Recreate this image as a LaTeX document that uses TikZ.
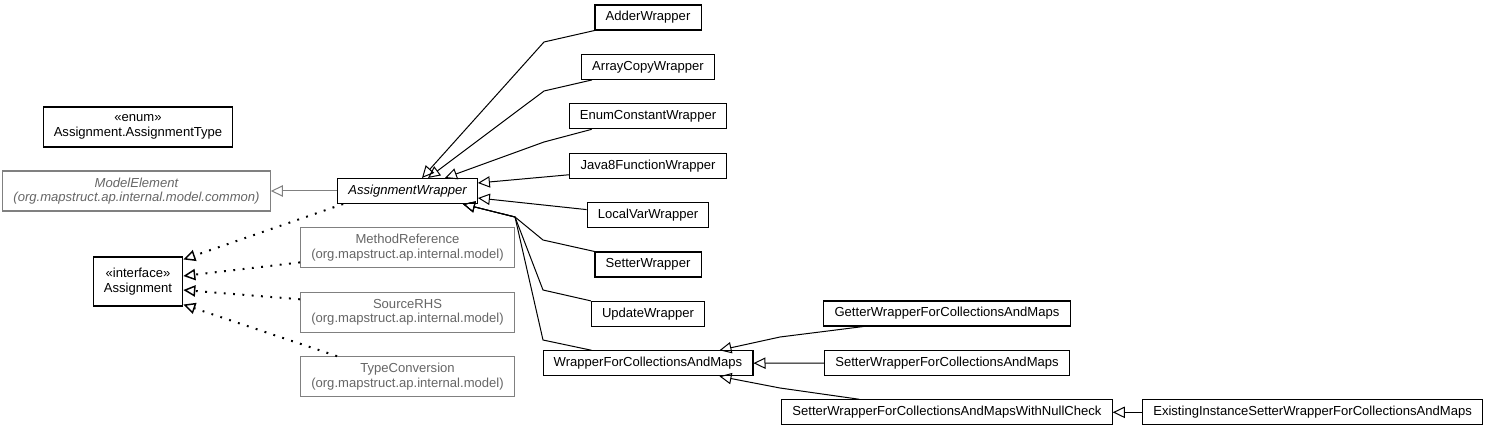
\documentclass[tikz,border=0pt]{standalone}
\usepackage{fontspec}
\setmainfont{Liberation Sans}
\usepackage{xcolor}
\definecolor{extline}{HTML}{808080}
\definecolor{exttext}{HTML}{666666}
\usepackage{tikz}
\usetikzlibrary{calc,positioning,arrows.meta}

\begin{document}
\begin{tikzpicture}[
  x=0.75pt,y=-0.75pt,
  node distance=17.5pt,
  cls/.style={draw=black,line width=0.8pt,fill=white,
              font=\fontsize{9.8pt}{11pt}\selectfont,align=center,
              inner xsep=8pt,inner ysep=2pt,minimum height=18.75pt},
  two/.style={minimum height=30pt},
  ext/.style={cls,two,draw=extline,text=exttext},
  gen/.style={-{Triangle[open,length=9pt,width=8.5pt]},line width=0.75pt},
  real/.style={-{Triangle[open,length=9pt,width=8.5pt,line width=1.1pt]},
               line width=1.5pt,dash pattern=on 1.4pt off 5.6pt}
]
  \useasboundingbox[fill=white] (0,0) rectangle (1488,431);
  % left part
  \node[cls,two] (assigntype) at (138,127) {«enum»\\Assignment.AssignmentType};
  \node[ext] (modelelement) at (136.5,191) {\itshape ModelElement\\\itshape (org.mapstruct.ap.internal.model.common)};
  \node[cls,minimum height=36.75pt] (assignment) at (138,281.5) {«interface»\\Assignment};
  \node[cls] (aw) at (407.5,191) {\itshape AssignmentWrapper};
  \node[ext,below=of aw] (methodref) {MethodReference\\(org.mapstruct.ap.internal.model)};
  \node[ext,below=of methodref] (sourcerhs) {SourceRHS\\(org.mapstruct.ap.internal.model)};
  \node[ext,below=of sourcerhs] (typeconv) {TypeConversion\\(org.mapstruct.ap.internal.model)};
  % wrappers
  \node[cls] (adder) at (648,17.5) {AdderWrapper};
  \node[cls,below=of adder] (arraycopy) {ArrayCopyWrapper};
  \node[cls,below=of arraycopy] (enumconst) {EnumConstantWrapper};
  \node[cls,below=of enumconst] (java8) {Java8FunctionWrapper};
  \node[cls,below=of java8] (localvar) {LocalVarWrapper};
  \node[cls,below=of localvar] (setter) {SetterWrapper};
  \node[cls,below=of setter] (update) {UpdateWrapper};
  \node[cls,below=of update] (wcm) {WrapperForCollectionsAndMaps};
  \node[cls] (getterwcm) at (947,313.5) {GetterWrapperForCollectionsAndMaps};
  \node[cls,below=of getterwcm] (setterwcm) {SetterWrapperForCollectionsAndMaps};
  \node[cls,below=of setterwcm] (nullcheck) {SetterWrapperForCollectionsAndMapsWithNullCheck};
  \node[cls,right=22pt of nullcheck] (existing) {ExistingInstanceSetterWrapperForCollectionsAndMaps};

  \draw[gen,draw=extline] (aw) -- (modelelement);
  \draw[gen] (adder.south west) -- (544,42) -- ($(aw.north)+(14.5,0)$);
  \draw[gen] ($(arraycopy.south west)+(11,0)$) -- (544,91) -- ($(aw.north)+(20.5,0)$);
  \draw[gen] ($(enumconst.south west)+(23,0)$) -- (544,142) -- ($(aw.north)+(37.5,0)$);
  \draw[gen] ($(java8.south west)+(0,-4)$) -- ($(aw.east)+(0,-8)$);
  \draw[gen] ($(localvar.west)+(0,-5.5)$) -- ($(aw.east)+(0,7)$);
  \draw[gen] (setter.north west) -- (543,240) -- (515,217) -- ($(aw.south east)+(-15,0)$);
  \draw[gen] (update.north west) -- (543,290) -- (515,217) -- ($(aw.south east)+(-15,0)$);
  \draw[gen] ($(wcm.north west)+(49,0)$) -- (543,340) -- (515,217) -- ($(aw.south east)+(-15,0)$);
  \draw[gen] ($(getterwcm.south west)+(40,0)$) -- (780,337) -- ($(wcm.north east)+(-34,0)$);
  \draw[gen] (setterwcm) -- (wcm);
  \draw[gen] ($(nullcheck.north west)+(78,0)$) -- (780,388) -- ($(wcm.south east)+(-34,0)$);
  \draw[gen] (existing) -- (nullcheck);

  \draw[real] ($(aw.south west)+(6,0)$) -- ($(assignment.north east)+(0,3)$);
  \draw[real] ($(methodref.west)+(0,14.5)$) -- ($(assignment.east)+(0,-5.5)$);
  \draw[real] ($(sourcerhs.west)+(0,-13)$) -- ($(assignment.east)+(0,8.5)$);
  \draw[real] ($(typeconv.north west)+(37,0)$) -- ($(assignment.south east)+(0,-2)$);
\end{tikzpicture}
\end{document}
